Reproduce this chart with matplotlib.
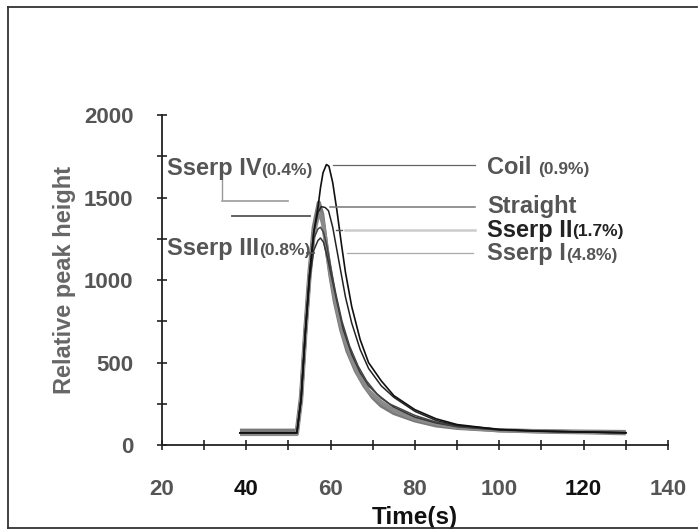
import numpy as np
import matplotlib
matplotlib.use("Agg")
import matplotlib.pyplot as plt
from matplotlib.lines import Line2D

plt.rcParams["font.family"] = ["Liberation Sans", "DejaVu Sans"]

# === Curves (time in s, relative peak height) ===
coil_t = [38.5, 52.0, 53.0, 54.0, 55.0, 56.0, 57.0, 57.6, 58.2, 59.0, 59.6, 60.5, 61.5, 62.5, 63.5,
          65, 67, 69, 72, 75, 80, 85, 90, 100, 110, 120, 130]
coil_v = [75, 75, 280, 680, 1030, 1290, 1440, 1560, 1650, 1700, 1690, 1590, 1420, 1230, 1050,
          840, 640, 500, 390, 300, 215, 160, 125, 95, 85, 80, 75]

straight_t = [38.5, 52.0, 53.0, 54.0, 55.0, 56.0, 57.0, 57.8, 58.7, 59.5, 60.5, 61.5, 62.5, 63.5,
              65, 67, 69, 72, 75, 80, 85, 90, 100, 110, 120, 130]
straight_v = [75, 75, 280, 680, 1030, 1290, 1410, 1445, 1440, 1420, 1320, 1180, 1040, 900,
              740, 580, 465, 360, 290, 205, 150, 120, 95, 85, 80, 75]

sserp1_t = [38.5, 52.0, 53.0, 54.0, 55.0, 56.0, 57.0, 57.6, 58.3, 59.3, 60.3, 61.5, 63,
            65, 67, 69, 72, 75, 80, 85, 90, 100, 110, 120, 130]
sserp1_v = [75, 75, 280, 680, 1000, 1180, 1240, 1255, 1230, 1130, 1010, 870, 700,
            550, 440, 360, 285, 230, 170, 135, 112, 92, 84, 80, 76]

sserp2_t = [38.5, 52.0, 53.0, 54.0, 55.0, 56.0, 57.0, 57.6, 58.3, 59.0, 60.0, 61.2, 62.7,
            64.5, 66.5, 68.5, 71, 74, 80, 85, 90, 100, 110, 120, 130]
sserp2_v = [75, 75, 280, 680, 1030, 1250, 1310, 1320, 1290, 1220, 1080, 920, 750,
            600, 480, 390, 310, 250, 180, 140, 115, 93, 85, 80, 76]

sserp3_t = [38.5, 52.0, 53.0, 54.0, 55.0, 56.0, 57.0, 57.6, 58.3, 59.3, 60.3, 61.5, 63,
            65, 67, 69, 72, 75, 80, 85, 90, 100, 110, 120, 130]
sserp3_v = [68, 68, 270, 670, 1020, 1280, 1390, 1400, 1330, 1150, 990, 830, 670,
            520, 410, 330, 260, 210, 160, 130, 110, 90, 82, 78, 72]

sserp4_t = [38.5, 52.0, 53.0, 54.0, 55.0, 56.0, 57.2, 58.0, 59.0, 60.0, 61.0, 62.5,
            64, 66, 68, 70, 72, 75, 80, 85, 90, 100, 110, 120, 130]
sserp4_v = [88, 88, 300, 700, 1050, 1320, 1470, 1400, 1200, 1020, 870, 700,
            570, 450, 360, 290, 240, 195, 150, 120, 105, 90, 85, 82, 80]

x_ticks = [20, 40, 60, 80, 100, 120, 140]
y_ticks = [0, 500, 1000, 1500, 2000]

fig = plt.figure(figsize=(6.98, 5.30), dpi=100)
ax = fig.add_axes([0.232, 0.160, 0.725, 0.623])

gray = "#7a7a7a"
ax.plot(sserp4_t, sserp4_v, color=gray, lw=3.0, solid_capstyle="butt")
ax.plot(sserp3_t, sserp3_v, color="#8a8a8a", lw=3.0, solid_capstyle="butt")
ax.plot(sserp1_t, sserp1_v, color="#333333", lw=1.1)
ax.plot(sserp2_t, sserp2_v, color="#444444", lw=1.1)
ax.plot(straight_t, straight_v, color="#222222", lw=1.1)
ax.plot(coil_t, coil_v, color="#111111", lw=1.2)

ax.set_xlim(20, 140)
ax.set_ylim(0, 2000)
ax.set_xticks(x_ticks)
ax.set_xticks(np.arange(30, 140, 20), minor=True)
ax.set_yticks(y_ticks)
ax.set_yticks(np.arange(250, 2000, 500), minor=True)
for s in ["top", "right"]:
    ax.spines[s].set_visible(False)
for s in ["left", "bottom"]:
    ax.spines[s].set_linewidth(1.3)
    ax.spines[s].set_color("#222222")
ax.tick_params(which="both", direction="inout", length=7, width=1.2, color="#222222")
ax.tick_params(axis="x", pad=21, labelsize=16, labelcolor="#555555")
ax.tick_params(axis="y", pad=17, labelsize=16, labelcolor="#555555")
for lab in ax.get_xticklabels() + ax.get_yticklabels():
    lab.set_fontweight("bold")
for lab in ax.get_xticklabels():
    if lab.get_text() in ("40", "120"):
        lab.set_color("#111111")

ax.set_xlabel("Time(s)", fontsize=17.5, fontweight="bold", color="#111111", labelpad=4)
ax.set_ylabel("Relative peak height", fontsize=17, fontweight="bold", color="#666666", labelpad=6)

# leader lines
ax.plot([60.6, 94.3], [1697, 1697], color="#666666", lw=0.9)
ax.plot([59.9, 94.3], [1442, 1442], color="#777777", lw=1.1)
ax.plot([61.3, 62.8], [1303, 1303], color="#555555", lw=1.0)
ax.plot([63.3, 94.3], [1303, 1303], color="#cccccc", lw=1.8)
ax.plot([63.8, 93.8], [1164, 1164], color="#aaaaaa", lw=0.9)
ax.plot([34.2, 34.2], [1606, 1490], color="#999999", lw=1.0)
ax.plot([34.2, 49.9], [1479, 1479], color="#999999", lw=1.2)
ax.plot([36.6, 55.1], [1388, 1388], color="#555555", lw=1.3)
ax.plot([54.5, 56.0], [1164, 1164], color="#555555", lw=1.3)


def label(x, y, big, small, color="#555555"):
    t1 = ax.text(x, y, big, fontsize=17, fontweight="bold", color=color,
                 va="center", ha="left")
    ax.annotate(small, xy=(1, 0.1), xycoords=t1, fontsize=12.5, fontweight="bold",
                color=color, va="bottom", ha="left")


label(21.2, 1675, "Sserp IV", "(0.4%)")
label(21.2, 1190, "Sserp III", "(0.8%)")
label(97.1, 1680, "Coil ", "(0.9%)")
ax.text(97.1, 1445, "Straight", fontsize=17, fontweight="bold", color="#555555",
        va="center", ha="left")
label(97.1, 1303, "Sserp II", "(1.7%)", color="#222222")
label(97.1, 1160, "Sserp I", "(4.8%)")

# outer frame of the scanned figure
fig.add_artist(Line2D([0.012, 0.012], [0.004, 0.987], color="#333333", lw=1.3))
fig.add_artist(Line2D([0.012, 0.999], [0.987, 0.987], color="#333333", lw=1.3))
fig.add_artist(Line2D([0.012, 0.999], [0.004, 0.004], color="#333333", lw=1.3))

fig.savefig("out.png", dpi=100)
